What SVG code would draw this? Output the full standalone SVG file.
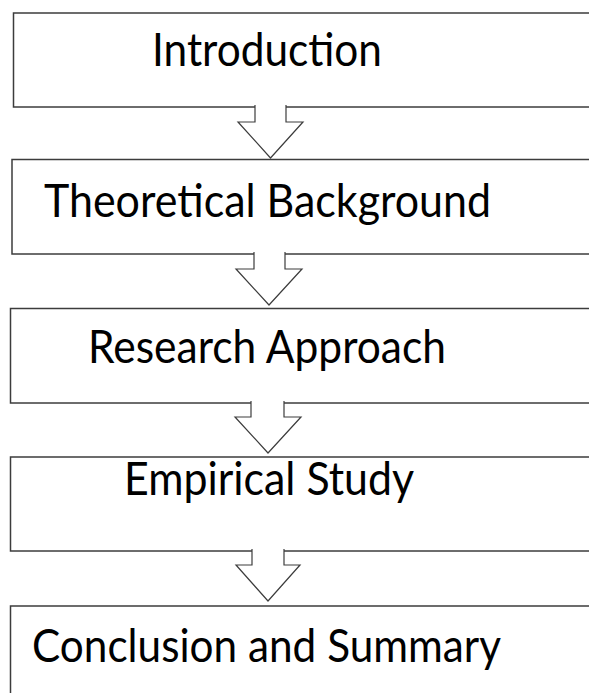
<svg xmlns="http://www.w3.org/2000/svg" width="589" height="693" viewBox="0 0 589 693">
<style>
.box{fill:#fff;stroke:#3c3c3c;stroke-width:1.5}
.arr{fill:#fff;stroke:#3c3c3c;stroke-width:1.2;stroke-linejoin:miter}
.lbl{font-family:Lato,"Open Sans","Liberation Sans",sans-serif;font-size:46px;fill:#000}
</style>
<rect width="589" height="693" fill="#fff"/>
<g id="n1"><rect class="box" x="13.5" y="13" width="600" height="94"/><text class="lbl" x="152" y="66" textLength="230" lengthAdjust="spacingAndGlyphs">Introduction</text></g>
<g id="n2"><rect class="box" x="12" y="159.5" width="600" height="94.5"/><text class="lbl" x="44" y="216.5" textLength="447" lengthAdjust="spacingAndGlyphs">Theoretical Background</text></g>
<g id="n3"><rect class="box" x="10.5" y="308.5" width="600" height="94.5"/><text class="lbl" x="88" y="362.5" textLength="358" lengthAdjust="spacingAndGlyphs">Research Approach</text></g>
<g id="n4"><rect class="box" x="10.5" y="457" width="600" height="94"/><text class="lbl" x="124" y="495" textLength="290" lengthAdjust="spacingAndGlyphs">Empirical Study</text></g>
<g id="n5"><rect class="box" x="10.5" y="606" width="600" height="120"/><text class="lbl" x="32" y="662" textLength="469" lengthAdjust="spacingAndGlyphs">Conclusion and Summary</text></g>
<g id="connectors">
<path class="arr" d="M255,105 V122 H238 L270.5,158 L303,122 H286 V105"/>
<path class="arr" d="M254,252 V269 H236 L269,305 L302,269 H285 V252"/>
<path class="arr" d="M251,401 V417 H235 L268,453 L301,417 H284 V401"/>
<path class="arr" d="M252,549 V565 H236 L268,601 L300,565 H284 V549"/>
</g>
</svg>
